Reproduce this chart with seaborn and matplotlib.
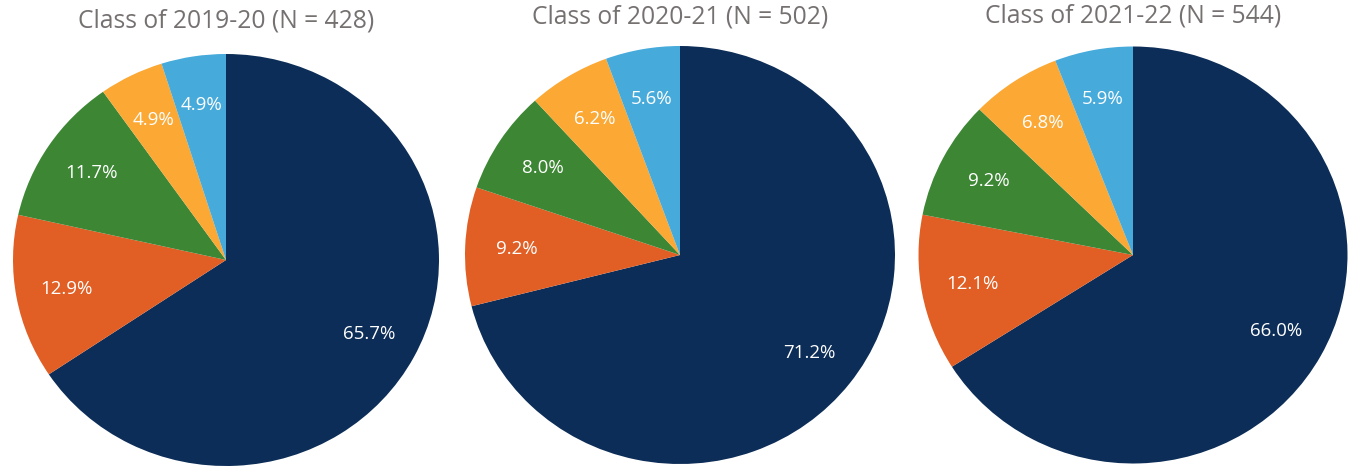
import matplotlib
matplotlib.use("Agg")
import matplotlib.pyplot as plt
import seaborn as sns

# data
titles = ["Class of 2019-20 (N = 428)", "Class of 2020-21 (N = 502)", "Class of 2021-22 (N = 544)"]
pct_2019 = [65.7, 12.9, 11.7, 4.9, 4.9]
pct_2020 = [71.2, 9.2, 8.0, 6.2, 5.6]
pct_2021 = [66.0, 12.1, 9.2, 6.8, 5.9]
all_pcts = [pct_2019, pct_2020, pct_2021]

colors = sns.color_palette(["#0C2D57", "#E15F25", "#3C8634", "#FBA834", "#46AADB"])

sns.set_style("white")
plt.rcParams["font.family"] = ["Open Sans", "DejaVu Sans"]

W, H = 1354, 466
fig = plt.figure(figsize=(W / 100, H / 100), dpi=100)

# (center x, center y from top, half width, half height, title y) in px
boxes = [(226, 260, 213, 206, 21), (680, 255, 215, 209, 17), (1133, 255, 214.5, 208.5, 16)]

for pcts, title, (cx, cy, hw, hh, ty) in zip(all_pcts, titles, boxes):
    ax = fig.add_axes([(cx - hw) / W, (H - cy - hh) / H, 2 * hw / W, 2 * hh / H])
    labels = iter([f"{v:.1f}%" for v in pcts])
    wedges, texts, autotexts = ax.pie(
        pcts, colors=colors, startangle=90, counterclock=False,
        autopct=lambda p: next(labels), pctdistance=0.76,
        textprops={"color": "white", "fontsize": 13.5},
        wedgeprops={"linewidth": 0})
    ax.set_xlim(-1, 1)
    ax.set_ylim(-1, 1)
    ax.set_aspect("auto")
    ax.axis("off")
    fig.text(cx / W, 1 - ty / H, title, ha="center", va="center",
             fontsize=17.7, color="#767171")

fig.savefig("out.png", dpi=100)
